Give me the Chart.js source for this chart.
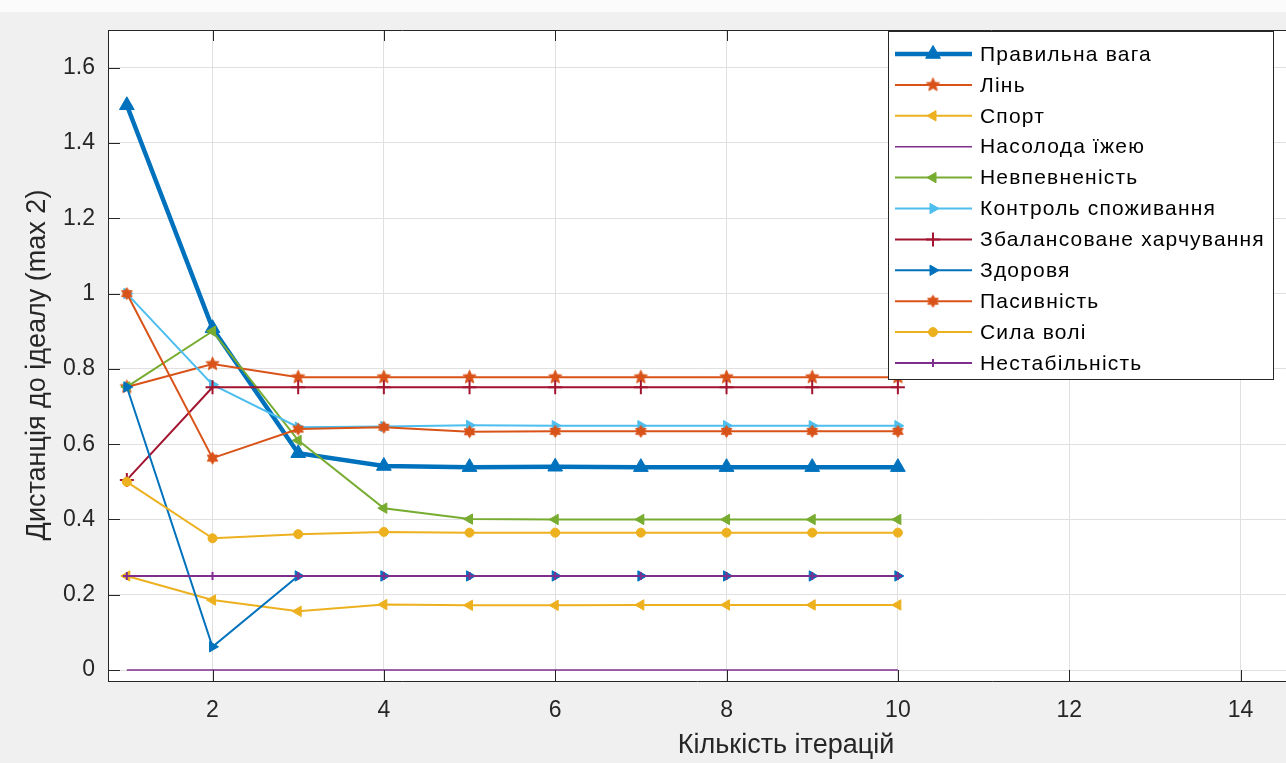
<!DOCTYPE html>
<html>
<head>
<meta charset="utf-8">
<script src="https://cdn.jsdelivr.net/npm/chart.js@4/dist/chart.umd.min.js"></script>
<style>
html,body{margin:0;padding:0;background:#f0f0f0;overflow:hidden;}
#wrap{position:relative;width:1286px;height:763px;background:#f0f0f0;}
#topband{position:absolute;left:0;top:0;width:1286px;height:12px;background:#fbfbfb;}
canvas{position:absolute;left:0;top:0;}
</style>
</head>
<body>
<div id="wrap"><div id="topband"></div><canvas id="c" width="1286" height="763"></canvas></div>
<script>
// ---------- data ----------
const iterations = [1, 2, 3, 4, 5, 6, 7, 8, 9, 10];
const seriesNames = ['Правильна вага', 'Лінь', 'Спорт', 'Насолода їжею', 'Невпевненість',
  'Контроль споживання', 'Збалансоване харчування', 'Здоровя', 'Пасивність', 'Сила волі', 'Нестабільність'];
const pravylnaVaha   = [1.50, 0.908, 0.576, 0.542, 0.539, 0.540, 0.539, 0.539, 0.539, 0.539];
const lin            = [0.752, 0.813, 0.778, 0.778, 0.778, 0.778, 0.778, 0.778, 0.778, 0.778];
const sport          = [0.250, 0.186, 0.156, 0.174, 0.172, 0.172, 0.173, 0.173, 0.173, 0.173];
const nasolodaYizheyu= [0, 0, 0, 0, 0, 0, 0, 0, 0, 0];
const nevpevnenist   = [0.752, 0.900, 0.610, 0.430, 0.401, 0.400, 0.400, 0.400, 0.400, 0.400];
const kontrolSpozhyvannia = [1.00, 0.758, 0.645, 0.647, 0.650, 0.649, 0.649, 0.649, 0.649, 0.649];
const zbalansovaneHarchuvannia = [0.505, 0.751, 0.751, 0.751, 0.751, 0.751, 0.751, 0.751, 0.751, 0.751];
const zdorovia       = [0.752, 0.062, 0.250, 0.250, 0.250, 0.250, 0.250, 0.250, 0.250, 0.250];
const pasyvnist      = [1.00, 0.563, 0.640, 0.645, 0.633, 0.634, 0.634, 0.634, 0.634, 0.634];
const sylaVoli       = [0.500, 0.350, 0.361, 0.367, 0.365, 0.365, 0.365, 0.365, 0.365, 0.365];
const nestabilnist   = [0.250, 0.250, 0.250, 0.250, 0.250, 0.250, 0.250, 0.250, 0.250, 0.250];
const xTickValues = [2, 4, 6, 8, 10, 12, 14];
const yTickValues = [0, 0.2, 0.4, 0.6, 0.8, 1, 1.2, 1.4, 1.6];
const xAxisTitle = 'Кількість ітерацій';
const yAxisTitle = 'Дистанція до ідеалу (max 2)';

// ---------- styles ----------
const C = {blue:'#0072BD', orange:'#D95319', yellow:'#EDB120', purple:'#7E2F8E', green:'#77AC30', cyan:'#4DBEEE', red:'#A2142F'};
function starCanvas(points, r, inner, color) {
  const s = Math.ceil(2 * r + 3);
  const c = document.createElement('canvas'); c.width = s; c.height = s;
  const g = c.getContext('2d'); g.translate(s / 2, s / 2); g.beginPath();
  for (let k = 0; k < 2 * points; k++) {
    const rr = k % 2 ? r * inner : r;
    const a = -Math.PI / 2 + k * Math.PI / points;
    g.lineTo(rr * Math.cos(a), rr * Math.sin(a));
  }
  g.closePath(); g.fillStyle = color; g.fill(); g.strokeStyle = color; g.lineWidth = 1; g.stroke();
  return c;
}
const pentagram = starCanvas(5, 7, 0.45, C.orange);
const hexagram = starCanvas(6, 6, 0.6, C.orange);

const seriesValues = [pravylnaVaha, lin, sport, nasolodaYizheyu, nevpevnenist, kontrolSpozhyvannia,
  zbalansovaneHarchuvannia, zdorovia, pasyvnist, sylaVoli, nestabilnist];
const seriesStyles = [
  {color:C.blue,   width:4.5, style:'triangle', r:8.5, rot:0,   fill:true},
  {color:C.orange, width:2,   style:pentagram,  r:7,   rot:0,   fill:true},
  {color:C.yellow, width:2,   style:'triangle', r:6,   rot:-90, fill:true},
  {color:C.purple, width:1.5, style:false,      r:0,   rot:0,   fill:true},
  {color:C.green,  width:2,   style:'triangle', r:6,   rot:-90, fill:true},
  {color:C.cyan,   width:2,   style:'triangle', r:6,   rot:90,  fill:true},
  {color:C.red,    width:2,   style:'cross',    r:7,   rot:0,   fill:false},
  {color:C.blue,   width:2,   style:'triangle', r:6,   rot:90,  fill:true},
  {color:C.orange, width:2,   style:hexagram,   r:6,   rot:0,   fill:true},
  {color:C.yellow, width:2,   style:'circle',   r:4.5, rot:0,   fill:true},
  {color:C.purple, width:2,   style:'cross',    r:4,   rot:0,   fill:false}
];

const N = seriesNames.length;
const datasets = seriesNames.map((name, i) => {
  const st = seriesStyles[i];
  return {
    label: name,
    data: iterations.map((x, k) => ({x: x, y: seriesValues[i][k]})),
    borderColor: st.color,
    backgroundColor: st.color,
    borderWidth: st.width,
    pointStyle: st.style || 'circle',
    pointRadius: st.style ? st.r : 0,
    pointRotation: st.rot,
    pointBorderWidth: st.style === 'cross' ? 2 : 1,
    pointBackgroundColor: st.color,
    pointBorderColor: st.color,
    tension: 0,
    fill: false,
    order: N - i
  };
});

const FONT = '"Liberation Sans", Arial, Helvetica, sans-serif';
const TXT = '#262626';
const PLOT_LEFT = 108, PLOT_TOP = 30, PLOT_BOTTOM = 681;
const X_MIN = 0.78, PX_PER_X = 85.67;

// ---------- plugins ----------
const plotBg = {
  id: 'plotBg',
  beforeDraw(chart) {
    const a = chart.chartArea, ctx = chart.ctx;
    ctx.save(); ctx.fillStyle = '#ffffff';
    ctx.fillRect(a.left, a.top, a.right - a.left, a.bottom - a.top);
    ctx.restore();
  }
};

const axesDecor = {
  id: 'axesDecor',
  afterDatasetsDraw(chart) {
    const a = chart.chartArea, ctx = chart.ctx;
    const xs = chart.scales.x, ys = chart.scales.y;
    ctx.save();
    ctx.strokeStyle = TXT; ctx.lineWidth = 1;
    ctx.beginPath();
    ctx.moveTo(a.left, a.top + 0.5); ctx.lineTo(a.right, a.top + 0.5);
    xTickValues.forEach(v => {
      const px = Math.round(xs.getPixelForValue(v)) + 0.5;
      ctx.moveTo(px, a.bottom); ctx.lineTo(px, a.bottom - 11);
      ctx.moveTo(px, a.top); ctx.lineTo(px, a.top + 11);
    });
    yTickValues.forEach(v => {
      const py = Math.round(ys.getPixelForValue(v)) + 0.5;
      ctx.moveTo(a.left, py); ctx.lineTo(a.left + 12, py);
    });
    ctx.stroke();
    ctx.fillStyle = TXT;
    ctx.font = '27px ' + FONT;
    ctx.textAlign = 'center'; ctx.textBaseline = 'middle';
    ctx.fillText(xAxisTitle, 786, 746);
    ctx.translate(38, 365); ctx.rotate(-Math.PI / 2);
    ctx.fillText(yAxisTitle, 0, 0);
    ctx.restore();
  }
};

function drawMarker(ctx, st, x, y) {
  if (!st.style) return;
  if (st.style instanceof HTMLCanvasElement) {
    ctx.drawImage(st.style, x - st.style.width / 2, y - st.style.height / 2);
    return;
  }
  ctx.fillStyle = st.color; ctx.strokeStyle = st.color;
  ctx.lineWidth = st.style === 'cross' ? 2 : 1;
  Chart.helpers.drawPoint(ctx, {pointStyle: st.style, radius: st.r, rotation: st.rot, borderWidth: ctx.lineWidth}, x, y);
}

const customLegend = {
  id: 'customLegend',
  afterDraw(chart) {
    const ctx = chart.ctx;
    const bx = 888.5, by = 31.5, bw = 385, bh = 348;
    ctx.save();
    ctx.fillStyle = '#ffffff'; ctx.fillRect(bx, by, bw, bh);
    ctx.strokeStyle = TXT; ctx.lineWidth = 1; ctx.strokeRect(bx, by, bw, bh);
    ctx.font = '21px ' + FONT;
    try { ctx.letterSpacing = '1.2px'; } catch (e) {}
    ctx.textAlign = 'left'; ctx.textBaseline = 'middle';
    seriesNames.forEach((name, i) => {
      const st = seriesStyles[i];
      const y = 54 + i * 30.9;
      ctx.strokeStyle = st.color; ctx.lineWidth = st.width;
      ctx.beginPath(); ctx.moveTo(895, y); ctx.lineTo(972, y); ctx.stroke();
      drawMarker(ctx, st, 933, y);
      ctx.fillStyle = '#000000';
      ctx.fillText(name, 980, y + 1);
    });
    ctx.restore();
  }
};

// ---------- chart ----------
new Chart(document.getElementById('c'), {
  type: 'line',
  data: { datasets: datasets },
  options: {
    responsive: false,
    animation: false,
    devicePixelRatio: 1,
    layout: { autoPadding: false, padding: { top: PLOT_TOP, left: 0, right: 0, bottom: 0 } },
    plugins: { legend: { display: false }, tooltip: { enabled: false } },
    scales: {
      x: {
        type: 'linear', min: X_MIN, max: 14.5,
        afterDataLimits: s => { s.min = X_MIN; s.max = X_MIN + s.width / PX_PER_X; },
        afterBuildTicks: s => { s.ticks = xTickValues.map(v => ({value: v})); },
        afterFit: s => { s.height = 763 - PLOT_BOTTOM; s.paddingLeft = 0; s.paddingRight = 0; },
        ticks: { font: {family: FONT, size: 23}, color: TXT, padding: 16, maxRotation: 0, autoSkip: false,
                 callback: v => String(v) },
        grid: { color: '#e0e0e0', drawTicks: false, lineWidth: 1 },
        border: { display: true, color: TXT, width: 1 }
      },
      y: {
        type: 'linear', min: -0.029, max: 1.70,
        afterBuildTicks: s => { s.ticks = yTickValues.map(v => ({value: v})); },
        afterFit: s => { s.width = PLOT_LEFT; s.paddingTop = 0; s.paddingBottom = 0; },
        ticks: { font: {family: FONT, size: 23}, color: TXT, padding: 13, autoSkip: false,
                 callback: v => String(Math.round(v * 10) / 10) },
        grid: { color: '#e0e0e0', drawTicks: false, lineWidth: 1 },
        border: { display: true, color: TXT, width: 1 }
      }
    }
  },
  plugins: [plotBg, axesDecor, customLegend]
});
</script>
</body>
</html>
